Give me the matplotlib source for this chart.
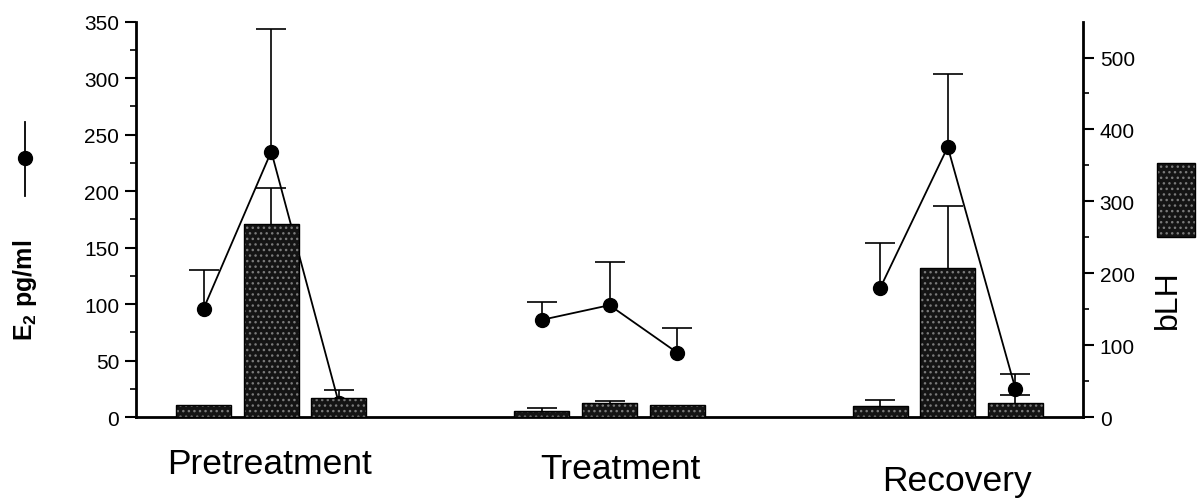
import matplotlib
matplotlib.use("Agg")
import matplotlib.pyplot as plt
import numpy as np
from matplotlib.lines import Line2D
from matplotlib.patches import Rectangle

plt.rcParams['font.family'] = ['Liberation Sans', 'DejaVu Sans']
plt.rcParams['mathtext.fontset'] = 'custom'
plt.rcParams['mathtext.rm'] = 'Liberation Sans'
plt.rcParams['mathtext.bf'] = 'Liberation Sans:bold'
plt.rcParams['hatch.linewidth'] = 1.0

# ---- data ----
phases = ["Pretreatment", "Treatment", "Recovery"]
offsets = [-0.2, 0.0, 0.2]
# bLH (bars, right axis)
blh_mean = [[17, 268, 27], [8, 20, 17], [16, 207, 20]]
blh_err = [[0, 50, 10], [4, 2, 0], [8, 86, 11]]
# E2 (line, left axis)
e2_mean = [[96, 235, 12], [86, 99, 57], [114, 239, 25]]
e2_err = [[34, 108, 0], [16, 38, 22], [40, 65, 13]]
left_ticks = [0, 50, 100, 150, 200, 250, 300, 350]
right_ticks = [0, 100, 200, 300, 400, 500]

fig = plt.figure(figsize=(11.97, 5.02), dpi=100)
ax = fig.add_axes([0.1136, 0.1673, 0.7912, 0.7877])
ax2 = ax.twinx()

bar_face = '#141414'
bar_hatch_col = '#7a7a7a'
width = 0.163
cap_ms = 22


def upper_errors(a, xs, means, errs, z):
    tops = [m + e for m, e in zip(means, errs)]
    xe = [x for x, e in zip(xs, errs) if e > 0]
    me = [m for m, e in zip(means, errs) if e > 0]
    te = [t for t, e in zip(tops, errs) if e > 0]
    a.vlines(xe, me, te, color='black', lw=1.2, zorder=z)
    a.plot(xe, te, ls='none', marker='_', ms=cap_ms, mew=1.2,
           color='black', zorder=z)


for g in range(3):
    xs = [g + o for o in offsets]
    # line with markers (left axis)
    ax.plot(xs, e2_mean[g], color='black', lw=1.3, marker='o', ms=10,
            zorder=3)
    upper_errors(ax, xs, e2_mean[g], e2_err[g], 3)
    # bars (right axis)
    ax2.bar(xs, blh_mean[g], width=width, color=bar_face,
            edgecolor=bar_hatch_col, hatch='...', linewidth=0, zorder=2)
    ax2.bar(xs, blh_mean[g], width=width, fill=False, edgecolor='black',
            linewidth=1.0, zorder=2)
    upper_errors(ax2, xs, blh_mean[g], blh_err[g], 3)

ax.set_xlim(-0.4, 2.4)
ax.set_ylim(0, 350)
ax2.set_ylim(0, 550)
ax.set_yticks(left_ticks)
ax.set_yticks(np.arange(25, 350, 50), minor=True)
ax2.set_yticks(right_ticks)
ax2.set_yticks(np.arange(50, 550, 100), minor=True)
ax.set_xticks([])

for a in (ax, ax2):
    a.spines['top'].set_visible(False)
ax.spines['right'].set_visible(False)
ax2.spines['left'].set_visible(False)
ax.spines['left'].set_linewidth(2)
ax2.spines['right'].set_linewidth(2)
ax.spines['bottom'].set_linewidth(2)
ax2.spines['bottom'].set_visible(False)

ax.tick_params(axis='y', which='major', length=8, width=1.5, labelsize=15,
               direction='out', pad=4)
ax.tick_params(axis='y', which='minor', length=4, width=1.2)
ax2.tick_params(axis='y', which='major', length=8, width=1.5, labelsize=15,
                direction='out', pad=4)
ax2.tick_params(axis='y', which='minor', length=4, width=1.2)

ax.set_zorder(1)
ax2.set_zorder(2)
ax2.patch.set_visible(False)

# group labels
label_pos = [(270, 465), (620, 470), (957, 482)]
for name, (px, py) in zip(phases, label_pos):
    fig.text(px / 1197, 1 - py / 502, name, ha='center', va='center',
             fontsize=25.5)

# left axis label and legend symbol
fig.text(25 / 1197, 1 - 290 / 502, r'$\mathbf{E_2}$ pg/ml', rotation=90,
         ha='center', va='center', fontsize=18, fontweight='bold')
fig.add_artist(Line2D([25 / 1197, 25 / 1197], [1 - 123 / 502, 1 - 197 / 502],
                      color='black', lw=1.3))
fig.add_artist(Line2D([25 / 1197], [1 - 159 / 502], marker='o', ms=10,
                      color='black', lw=0))

# right axis label and legend patch
fig.add_artist(Rectangle((1157 / 1197, 1 - 238 / 502), 38 / 1197, 74 / 502,
                         facecolor=bar_face, edgecolor=bar_hatch_col,
                         hatch='...', linewidth=0))
fig.add_artist(Rectangle((1157 / 1197, 1 - 238 / 502), 38 / 1197, 74 / 502,
                         fill=False, edgecolor='black', linewidth=1.0))
fig.text(1168 / 1197, 1 - 300 / 502, 'bLH', rotation=90, ha='center',
         va='center', fontsize=23)

fig.savefig('out.png', dpi=100)
